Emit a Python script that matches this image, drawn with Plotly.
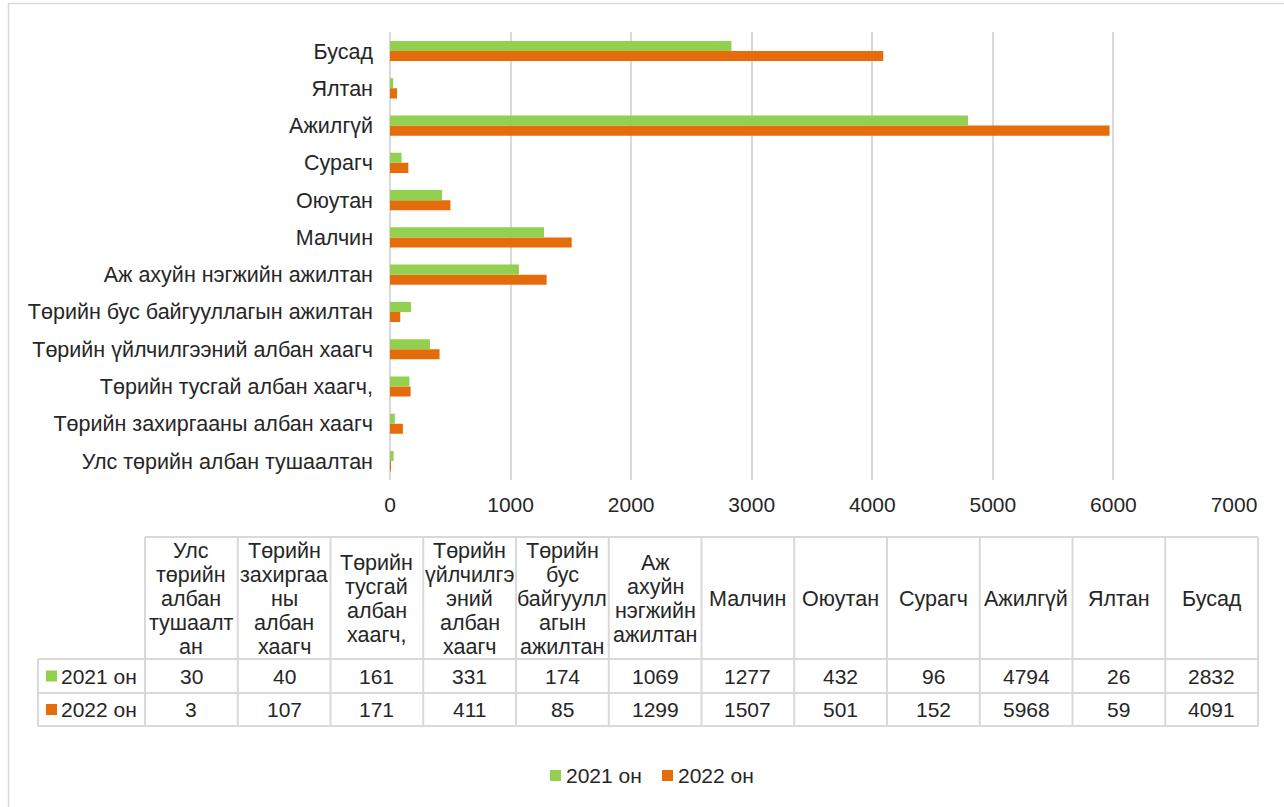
import plotly.graph_objects as go

# ---------------- data ----------------
categories = [
    "Улс төрийн албан тушаалтан",
    "Төрийн захиргааны албан хаагч",
    "Төрийн тусгай албан хаагч,",
    "Төрийн үйлчилгээний албан хаагч",
    "Төрийн бус байгууллагын ажилтан",
    "Аж ахуйн нэгжийн ажилтан",
    "Малчин",
    "Оюутан",
    "Сурагч",
    "Ажилгүй",
    "Ялтан",
    "Бусад",
]
# wrapped column headers of the data table (as printed in the table)
table_headers = [
    ["Улс", "төрийн", "албан", "тушаалт", "ан"],
    ["Төрийн", "захиргаа", "ны", "албан", "хаагч"],
    ["Төрийн", "тусгай", "албан", "хаагч,"],
    ["Төрийн", "үйлчилгэ", "эний", "албан", "хаагч"],
    ["Төрийн", "бус", "байгуулл", "агын", "ажилтан"],
    ["Аж", "ахуйн", "нэгжийн", "ажилтан"],
    ["Малчин"],
    ["Оюутан"],
    ["Сурагч"],
    ["Ажилгүй"],
    ["Ялтан"],
    ["Бусад"],
]
series_names = ["2021 он", "2022 он"]
values_2021 = [30, 40, 161, 331, 174, 1069, 1277, 432, 96, 4794, 26, 2832]
values_2022 = [3, 107, 171, 411, 85, 1299, 1507, 501, 152, 5968, 59, 4091]
x_ticks = [0, 1000, 2000, 3000, 4000, 5000, 6000, 7000]

# ---------------- style ----------------
W, H = 1284, 807
GREEN = "#92D050"
ORANGE = "#E46C0A"
GRID = "#D9D9D9"
TXT = "#262626"
FONT = "Liberation Sans, Arial, sans-serif"
FS = 21
FS_CAT = 21.5


def px(x):
    return x / W


def py(y):
    return 1 - y / H


fig = go.Figure()
# 2022 first so that 2021 sits above it in each group
fig.add_trace(go.Bar(y=categories, x=values_2022, name=series_names[1], orientation="h",
                     marker=dict(color=ORANGE, line=dict(width=0)), showlegend=False, hoverinfo="x+name"))
fig.add_trace(go.Bar(y=categories, x=values_2021, name=series_names[0], orientation="h",
                     marker=dict(color=GREEN, line=dict(width=0)), showlegend=False, hoverinfo="x+name"))

shapes = []
annotations = []


def text(x, y, s, anchor="center", size=FS):
    annotations.append(dict(x=px(x), y=py(y), xref="paper", yref="paper", text=s, showarrow=False,
                            xanchor=anchor, yanchor="middle", font=dict(size=size, color=TXT, family=FONT)))


# outer frame
shapes.append(dict(type="rect", xref="paper", yref="paper", x0=px(8.5), x1=1.05, y0=-0.05, y1=py(3.5),
                   line=dict(color=GRID, width=1.5), layer="below"))

# ---------------- data table ----------------
tab_left = 38
col0 = 145
col_w = (1258 - 145) / len(categories)
row_y = [537, 659, 693, 726]
LINE = dict(color=GRID, width=2)
LINE_H = 24.2

col_edges = [col0 + i * col_w for i in range(len(categories) + 1)]
shapes.append(dict(type="line", xref="paper", yref="paper", x0=px(col0), x1=px(col_edges[-1]),
                   y0=py(row_y[0]), y1=py(row_y[0]), line=LINE))
for yy in row_y[1:]:
    shapes.append(dict(type="line", xref="paper", yref="paper", x0=px(tab_left), x1=px(col_edges[-1]),
                       y0=py(yy), y1=py(yy), line=LINE))
shapes.append(dict(type="line", xref="paper", yref="paper", x0=px(tab_left), x1=px(tab_left),
                   y0=py(row_y[1]), y1=py(row_y[3]), line=LINE))
for xx in col_edges:
    shapes.append(dict(type="line", xref="paper", yref="paper", x0=px(xx), x1=px(xx),
                       y0=py(row_y[0]), y1=py(row_y[3]), line=LINE))

# header texts (line by line, Excel-like line spacing)
for i, lines in enumerate(table_headers):
    cx = (col_edges[i] + col_edges[i + 1]) / 2
    cy = (row_y[0] + row_y[1]) / 2 + 1
    n = len(lines)
    for k, s in enumerate(lines):
        text(cx, cy + (k - (n - 1) / 2) * LINE_H, s, size=FS_CAT)

# value rows
for r, (vals, col, name) in enumerate([(values_2021, GREEN, series_names[0]),
                                       (values_2022, ORANGE, series_names[1])]):
    cy = (row_y[1 + r] + row_y[2 + r]) / 2
    for i, v in enumerate(vals):
        cx = (col_edges[i] + col_edges[i + 1]) / 2
        text(cx, cy, str(v))
    shapes.append(dict(type="rect", xref="paper", yref="paper", x0=px(46), x1=px(57),
                       y0=py(cy + 5.5), y1=py(cy - 5.5), fillcolor=col, line=dict(width=0)))
    text(59, cy, name, "left")

# ---------------- legend ----------------
leg_y = 775.5
for lx, col, name in [(550, GREEN, series_names[0]), (662, ORANGE, series_names[1])]:
    shapes.append(dict(type="rect", xref="paper", yref="paper", x0=px(lx), x1=px(lx + 11),
                       y0=py(leg_y + 5.5), y1=py(leg_y - 5.5), fillcolor=col, line=dict(width=0)))
    text(lx + 14, leg_y, name, "left")

fig.update_layout(
    width=W, height=H,
    margin=dict(l=0, r=0, t=0, b=0, pad=0, autoexpand=False),
    paper_bgcolor="white", plot_bgcolor="white",
    barmode="group", bargap=0.46, bargroupgap=0,
    font=dict(family=FONT, size=FS, color=TXT),
    showlegend=False,
    shapes=shapes, annotations=annotations,
    xaxis=dict(domain=[px(390), px(1234)], range=[0, 7000], tickvals=x_ticks, automargin=False,
               showgrid=True, gridcolor=GRID, gridwidth=2, zeroline=True, zerolinecolor=GRID, zerolinewidth=2,
               showline=False, ticks="", ticklabelstandoff=10, tickfont=dict(size=FS, color=TXT)),
    yaxis=dict(domain=[py(479.7), py(32.4)], type="category", categoryorder="array", categoryarray=categories,
               automargin=False,
               showgrid=False, zeroline=False, showline=False, ticks="", ticklabelstandoff=16,
               tickfont=dict(size=FS_CAT, color=TXT)),
)

fig.write_html("out.html", config={"displayModeBar": False},
               post_script="document.body.style.margin='0';document.body.style.overflow='hidden';")
